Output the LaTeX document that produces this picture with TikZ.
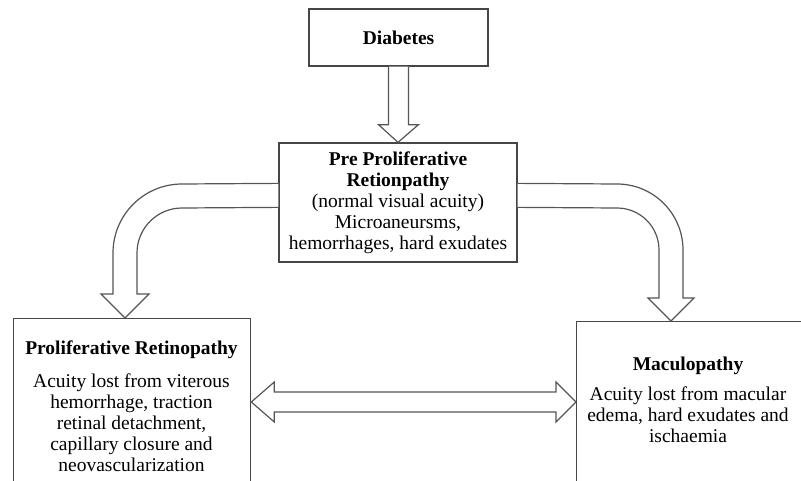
\documentclass[tikz,border=0pt]{standalone}
\usepackage{fontspec}
\setmainfont{Liberation Serif}
\usetikzlibrary{calc}
\definecolor{boxline}{RGB}{70,70,70}
\definecolor{arrline}{RGB}{85,85,85}
\tikzset{
  boxnode/.style={draw=boxline, line width=1.3pt, fill=white, rectangle, inner sep=0pt},
  txtnode/.style={align=center, inner sep=0pt, font=\fontsize{19.5}{21}\selectfont},
  blockarrow/.style={draw=arrline, line width=1.2pt, fill=white, line join=miter}
}
\begin{document}
\begin{tikzpicture}[x=1pt,y=-1pt]
\useasboundingbox (0,0) rectangle (801,480);
% boxes
\node[boxnode, minimum width=179pt, minimum height=57pt] (diab) at (398.5,37.5) {};
\node[txtnode] (diabT) at (398.5,38) {\textbf{Diabetes}};
\node[boxnode, minimum width=238pt, minimum height=119pt] (pre) at (398,202.5) {};
\node[txtnode] (preT) at (398,203) {\textbf{Pre Proliferative}\\\textbf{Retionpathy}\\(normal visual acuity)\\Microaneursms,\\hemorrhages, hard exudates};
\node[boxnode, minimum width=237pt, minimum height=170pt, anchor=north west] (prolif) at (13,318) {};
\node[txtnode, anchor=north] (prolifT) at (131.5,341) {\textbf{Proliferative Retinopathy}\\[12pt]Acuity lost from viterous\\hemorrhage, traction\\retinal detachment,\\capillary closure and\\neovascularization};
\node[boxnode, minimum width=230pt, minimum height=170pt, anchor=north west] (macu) at (576,321) {};
\node[txtnode, anchor=north] (macuT) at (688,357) {\textbf{Maculopathy}\\[9pt]Acuity lost from macular\\edema, hard exudates and\\ischaemia};
% Diabetes -> Pre
\draw[blockarrow] ($(diab.south)+(-10,0)$) -- ($(diab.south)+(-10,58)$) -- ($(diab.south)+(-20,58)$)
  -- (pre.north) -- ($(diab.south)+(20,58)$) -- ($(diab.south)+(10,58)$) -- ($(diab.south)+(10,0)$);
% Pre -> Proliferative (curved)
\coordinate (lA) at ($(pre.north west)+(0,41)$);
\coordinate (lB) at ($(pre.north west)+(0,65)$);
\coordinate (lTip) at (prolif.north -| 125,0);
\draw[blockarrow] (lA) -- (182,184) arc[start angle=270, end angle=180, radius=69]
  -- (113,294) -- (101,294) -- (lTip) -- (149,294) -- (137,294)
  -- (137,253) arc[start angle=180, end angle=270, radius=45] -- (lB);
% Pre -> Maculopathy (curved)
\coordinate (rA) at ($(pre.north east)+(0,41)$);
\coordinate (rB) at ($(pre.north east)+(0,65)$);
\coordinate (rTip) at (macu.north -| 671,0);
\draw[blockarrow] (rA) -- (617,184) arc[start angle=270, end angle=360, radius=66]
  -- (683,298) -- (694,298) -- (rTip) -- (648,298) -- (659,298)
  -- (659,250) arc[start angle=360, end angle=270, radius=42] -- (rB);
% double arrow
\coordinate (dL) at (prolif.east |- 0,402);
\coordinate (dR) at (macu.west |- 0,402);
\draw[blockarrow] (dL) -- ($(dL)+(23,-20)$) -- ($(dL)+(23,-10)$) -- ($(dR)+(-20,-10)$) -- ($(dR)+(-20,-20)$)
  -- (dR) -- ($(dR)+(-20,20)$) -- ($(dR)+(-20,10)$) -- ($(dL)+(23,10)$) -- ($(dL)+(23,20)$) -- cycle;
\end{tikzpicture}
\end{document}
